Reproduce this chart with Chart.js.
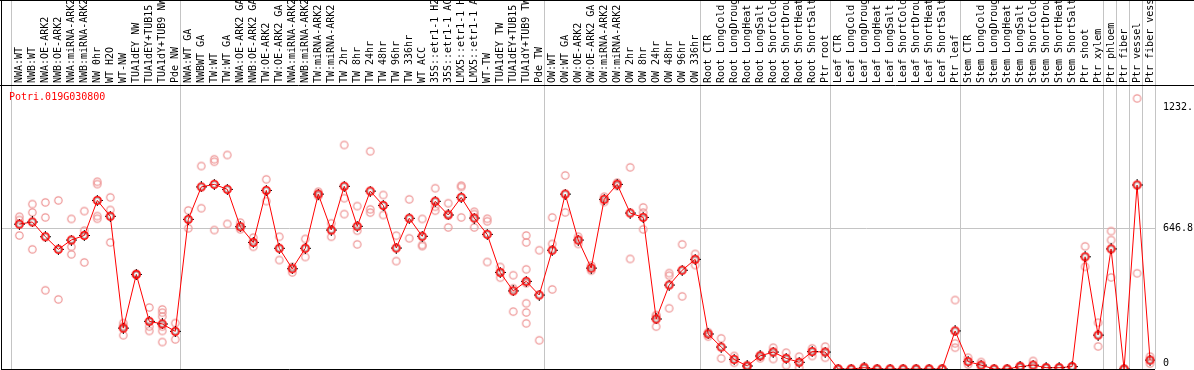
<!DOCTYPE html>
<html>
<head>
<meta charset="utf-8">
<script src="https://cdn.jsdelivr.net/npm/chart.js@4.4.1/dist/chart.umd.min.js"></script>
<style>
  body { margin: 0; background: #fff; }
  canvas { display: block; }
</style>
</head>
<body>
<canvas id="myChart" width="1194" height="370"></canvas>
<script>
var geneName = "Potri.019G030800";

var samples = [
    "NWA:WT", "NWB:WT", "NWA:OE-ARK2", "NWB:OE-ARK2", "NWA:miRNA-ARK2", "NWB:miRNA-ARK2",
    "NW 0hr", "WT H2O", "WT-NW", "TUA1dEY NW", "TUA1dEY+TUB15 NW", "TUA1dY+TUB9 NW", "Pde NW",
    "NWA:WT GA", "NWBWT GA", "TW:WT", "TW:WT GA", "NWA:OE-ARK2 GA", "NWB:OE-ARK2 GA",
    "TW:OE-ARK2", "TW:OE-ARK2 GA", "NWA:miRNA-ARK2 GA", "NWB:miRNA-ARK2 GA", "TW:miRNA-ARK2",
    "TW:miRNA-ARK2 GA", "TW 2hr", "TW 8hr", "TW 24hr", "TW 48hr", "TW 96hr", "TW 336hr", "WT ACC",
    "35S::etr1-1 H2O", "35S::etr1-1 ACC", "LMX5::etr1-1 H2O", "LMX5::etr1-1 ACC", "WT-TW",
    "TUA1dEY TW", "TUA1dEY+TUB15 TW", "TUA1dY+TUB9 TW", "Pde TW",
    "OW:WT", "OW:WT GA", "OW:OE-ARK2", "OW:OE-ARK2 GA", "OW:miRNA-ARK2", "OW:miRNA-ARK2 GA",
    "OW 2hr", "OW 8hr", "OW 24hr", "OW 48hr", "OW 96hr", "OW 336hr",
    "Root CTR", "Root LongCold", "Root LongDrought", "Root LongHeat", "Root LongSalt",
    "Root ShortCold", "Root ShortDrought", "Root ShortHeat", "Root ShortSalt", "Ptr root",
    "Leaf CTR", "Leaf LongCold", "Leaf LongDrought", "Leaf LongHeat", "Leaf LongSalt",
    "Leaf ShortCold", "Leaf ShortDrought", "Leaf ShortHeat", "Leaf ShortSalt", "Ptr leaf",
    "Stem CTR", "Stem LongCold", "Stem LongDrought", "Stem LongHeat", "Stem LongSalt",
    "Stem ShortCold", "Stem ShortDrought", "Stem ShortHeat", "Stem ShortSalt", "Ptr shoot",
    "Ptr xylem", "Ptr phloem", "Ptr fiber", "Ptr vessel", "Ptr fiber vessel"
];

// mean expression per sample
var means = [
    666, 676, 608, 550, 593, 614, 775, 702, 188, 435, 219, 207, 173,
    688, 837, 849, 826, 654, 582, 821, 555, 461, 555, 804, 639, 840, 656, 818, 752, 556,
    693, 610, 771, 708, 789, 694, 619, 444, 359, 403, 340,
    546, 804, 593, 464, 780, 849, 717, 697, 230, 386, 454, 504,
    161, 101, 44, 14, 60, 78, 49, 31, 80, 78,
    0, 0, 6, 0, 0, 0, 0, 0, 0, 175,
    34, 18, 0, 0, 11, 18, 6, 6, 11, 516, 156,
    552, 0, 846, 41
];

// replicate values per sample
var replicates = [
    [700, 685, 614], [758, 720, 550], [766, 697, 362], [775, 320], [690, 562, 527],
    [726, 636, 490], [861, 850, 703, 691], [789, 731, 582], [211, 197, 155], [438, 432],
    [283, 195, 175], [274, 259, 241, 195, 175, 124], [211, 136],
    [729, 647], [933, 739], [964, 953, 639], [984, 667], [673, 642], [604, 562],
    [872, 772], [608, 501], [470, 444], [598, 515], [815, 795], [670, 608],
    [1030, 785, 712], [749, 636, 573], [1001, 734, 719], [800, 708], [613, 496],
    [780, 601], [690, 570, 565], [831, 746, 728], [762, 713, 651], [843, 837, 697],
    [723, 712, 651], [691, 679, 492], [469, 420], [431, 371, 264],
    [614, 582, 458, 394, 302, 260, 210], [546, 132],
    [697, 575, 366], [890, 720], [608, 575], [476, 452], [792, 768], [857, 841],
    [927, 506], [743, 719, 642], [248, 245, 195], [441, 429, 279], [573, 334], [529, 478],
    [169, 149], [141, 49], [60, 29], [18, 10], [64, 49], [98, 46], [75, 17], [57, 6],
    [95, 60], [103, 52],
    [0, 0], [0, 0], [11, 1], [0, 0], [0, 0], [0, 0], [0, 0], [0, 0], [0, 0], [317, 118, 98],
    [52, 21], [32, 11], [0, 0], [0, 0], [6, 16], [37, 6], [6, 6], [6, 6], [11, 11],
    [564, 470], [213, 104],
    [634, 593, 421], [0], [1244, 440], [57, 25]
];

// first sample index of each boxed group (last entry = end)
var groupStarts = [0, 13, 41, 53, 63, 73, 84, 85, 86, 87, 88];

var yTickValues = [0, 646.8, 1232];
var yTickLabels = [["0", ""], "646.8", ["", "1232."]];

var monoFont = { family: "'DejaVu Sans Mono', monospace", size: 10 };

var meanPoints = means.map(function (v, i) { return { x: i, y: v }; });
var repPoints = [];
replicates.forEach(function (list, i) {
    list.forEach(function (v) {
        repPoints.push({ x: i, y: v });
    });
});

function makeMarker(ringColor, dotColor, lineWidth, inner) {
    var c = document.createElement("canvas");
    c.width = 11;
    c.height = 11;
    var g = c.getContext("2d");
    if (dotColor) {
        g.fillStyle = dotColor;
        g.fillRect(5, 0, 1, 1);
        g.fillRect(5, 10, 1, 1);
        g.fillRect(0, 5, 1, 1);
        g.fillRect(10, 5, 1, 1);
    }
    g.strokeStyle = ringColor;
    g.lineWidth = lineWidth;
    g.beginPath();
    g.arc(5.5, 5.5, 3.7, 0, Math.PI * 2);
    g.stroke();
    if (inner) {
        g.strokeStyle = inner;
        g.lineWidth = 0.8;
        g.beginPath();
        g.arc(5.5, 5.5, 2.6, 0, Math.PI * 2);
        g.stroke();
    }
    return c;
}

var meanMarker = makeMarker("#ff0000", "#000000", 1.6, "rgba(0,0,0,0.45)");
var repMarker = makeMarker("rgb(238,150,150)", null, 1.2, null);

// frame, group separators and gene name
var frame = {
    id: "frame",
    beforeDatasetsDraw: function (chart) {
        var c = chart.ctx;
        var area = chart.chartArea;
        var xs = chart.scales.x;
        c.save();
        c.strokeStyle = "#c4c4c4";
        c.lineWidth = 1;
        groupStarts.forEach(function (k) {
            var x = Math.round(xs.getPixelForValue(k - 0.615)) + 0.5;
            c.beginPath();
            c.moveTo(x, 0);
            c.lineTo(x, area.bottom);
            c.stroke();
        });
        c.strokeStyle = "#000";
        c.beginPath();
        c.moveTo(0, 0.5);
        c.lineTo(chart.width, 0.5);
        c.moveTo(0, area.top + 0.5);
        c.lineTo(chart.width, area.top + 0.5);
        c.moveTo(area.left + 0.5, 0);
        c.lineTo(area.left + 0.5, area.bottom);
        c.moveTo(area.left, area.bottom + 0.5);
        c.lineTo(area.right, area.bottom + 0.5);
        c.stroke();
        c.restore();
    },
    afterDraw: function (chart) {
        var c = chart.ctx;
        var area = chart.chartArea;
        c.save();
        c.font = "10px 'DejaVu Sans Mono', monospace";
        c.fillStyle = "#ff0000";
        c.textBaseline = "middle";
        c.fillText(geneName, area.left + 8, area.top + 12);
        c.restore();
    },
};

const ctx = document.getElementById("myChart").getContext("2d");
const myChart = new Chart(ctx, {
    type: "line",
    plugins: [frame],
    data: {
        datasets: [
            {
                label: "mean",
                data: meanPoints,
                borderColor: "#ff0000",
                borderWidth: 1,
                pointStyle: meanMarker,
                pointRadius: 4,
                tension: 0,
                clip: 0,
                order: 0,
            },
            {
                label: "replicates",
                data: repPoints,
                showLine: false,
                pointStyle: repMarker,
                pointRadius: 4,
                clip: 0,
                order: 1,
            },
        ],
    },
    options: {
        responsive: false,
        animation: false,
        layout: { autoPadding: false, padding: { left: 1, right: 0, top: 0, bottom: 1 } },
        plugins: {
            legend: { display: false },
            tooltip: { enabled: false },
        },
        scales: {
            x: {
                type: "linear",
                position: "top",
                min: -1.41,
                max: 87.38,
                afterBuildTicks: function (axis) {
                    axis.ticks = samples.map(function (s, i) { return { value: i }; });
                },
                afterFit: function (axis) {
                    axis.height = 85;
                    axis.paddingLeft = 0;
                    axis.paddingRight = 0;
                },
                grid: { display: false, drawTicks: false },
                border: { display: false },
                ticks: {
                    autoSkip: false,
                    minRotation: 90,
                    maxRotation: 90,
                    padding: 2,
                    labelOffset: 12.5,
                    color: "#000",
                    font: monoFont,
                    callback: function (value) {
                        return samples[value];
                    },
                },
            },
            y: {
                position: "right",
                min: 0,
                max: 1305.6,
                afterBuildTicks: function (axis) {
                    axis.ticks = yTickValues.map(function (v) { return { value: v }; });
                },
                afterFit: function (axis) {
                    axis.width = 39;
                    axis.paddingTop = 0;
                    axis.paddingBottom = 0;
                },
                grid: {
                    drawTicks: false,
                    color: function (c) {
                        return c.tick && c.tick.value === 646.8 ? "#c4c4c4" : "rgba(0,0,0,0)";
                    },
                },
                border: { display: false },
                ticks: {
                    padding: 8,
                    color: "#000",
                    font: monoFont,
                    callback: function (value, index) {
                        return yTickLabels[index];
                    },
                },
            },
        },
    },
});
</script>
</body>
</html>
